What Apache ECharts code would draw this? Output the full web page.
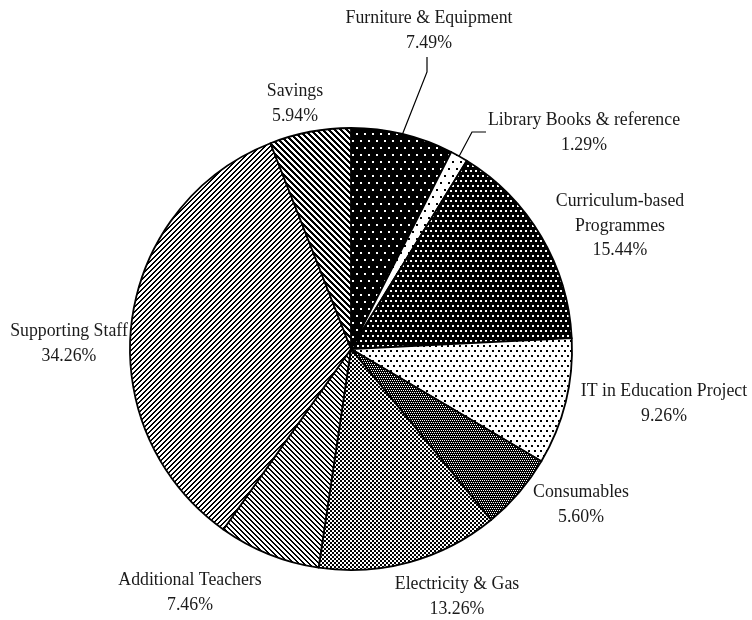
<!DOCTYPE html>
<html>
<head>
<meta charset="utf-8">
<script src="https://cdn.jsdelivr.net/npm/echarts@6/dist/echarts.min.js"></script>
<style>
  html, body { margin: 0; padding: 0; background: #fff; }
  #chart { width: 752px; height: 620px; }
</style>
</head>
<body>
<div id="chart"></div>
<script>
// Expenditure shares (%), clockwise from 12 o'clock
const categories = [
  'Furniture & Equipment',
  'Library Books & reference',
  'Curriculum-based\nProgrammes',
  'IT in Education Project',
  'Consumables',
  'Electricity & Gas',
  'Additional Teachers',
  'Supporting Staff',
  'Savings'
];
const shares = [7.49, 1.29, 15.44, 9.26, 5.60, 13.26, 7.46, 34.26, 5.94];

// Label anchor centres (px) and leader line bends
const labelCentres = [
  [429, 31], [584, 133], [620, 226], [664, 404], [581, 505],
  [457, 597], [190, 593], [69, 344], [295, 104]
];
const leaderLines = {
  0: [[427, 72], [427, 57]],
  1: [[472, 132], [486, 132]]
};

// Monochrome fill tiles drawn pixel by pixel
function tile(w, h, isBlack) {
  const c = document.createElement('canvas');
  c.width = w; c.height = h;
  const ctx = c.getContext('2d');
  const img = ctx.createImageData(w, h);
  for (let y = 0; y < h; y++) {
    for (let x = 0; x < w; x++) {
      const k = (y * w + x) * 4;
      const v = isBlack(x, y) ? 0 : 255;
      img.data[k] = v; img.data[k + 1] = v; img.data[k + 2] = v; img.data[k + 3] = 255;
    }
  }
  ctx.putImageData(img, 0, 0);
  return { image: c, repeat: 'repeat' };
}
function dot(x, y, cx, cy, s) { return x >= cx && x < cx + s && y >= cy && y < cy + s; }

const fills = [
  // sparse white dots on black
  tile(16, 14, (x, y) => !(dot(x, y, 0, 0, 2) || dot(x, y, 8, 0, 2) || dot(x, y, 4, 7, 2) || dot(x, y, 12, 7, 2))),
  // sparse black dots on white
  tile(16, 14, (x, y) => dot(x, y, 0, 0, 2) || dot(x, y, 8, 0, 2) || dot(x, y, 4, 7, 2) || dot(x, y, 12, 7, 2)),
  // dense white dots on black
  tile(10, 10, (x, y) => !(dot(x, y, 0, 0, 2) || dot(x, y, 5, 0, 2) || dot(x, y, 2, 5, 2) || dot(x, y, 7, 5, 2))),
  // medium black dots on white
  tile(12, 10, (x, y) => dot(x, y, 0, 0, 2) || dot(x, y, 6, 0, 2) || dot(x, y, 3, 5, 2) || dot(x, y, 9, 5, 2)),
  // dark fine grid
  tile(4, 4, (x, y) => !((x === 0 && y === 0) || (x === 2 && y === 0) || (x === 1 && y === 2) || (x === 3 && y === 2))),
  // 50% checker
  tile(4, 4, (x, y) => ((x >> 1) + (y >> 1)) % 2 === 0),
  // thin back-slash hatch
  tile(5, 5, (x, y) => ((x - y) % 5 + 5) % 5 < 2),
  // thin forward-slash hatch
  tile(5, 5, (x, y) => (x + y) % 5 < 2),
  // heavy back-slash hatch
  tile(6, 6, (x, y) => ((x - y) % 6 + 6) % 6 < 3)
];

const data = categories.map((name, i) => ({
  name: name,
  value: shares[i],
  itemStyle: { color: fills[i] },
  labelLine: { show: i in leaderLines }
}));

const chart = echarts.init(document.getElementById('chart'), null, { renderer: 'canvas' });
chart.setOption({
  animation: false,
  backgroundColor: '#ffffff',
  series: [{
    type: 'pie',
    center: [351, 349],
    radius: [0, 221],
    startAngle: 90,
    clockwise: true,
    avoidLabelOverlap: false,
    data: data,
    itemStyle: { borderColor: '#000', borderWidth: 1.8 },
    emphasis: { disabled: true },
    label: {
      show: true,
      position: 'outside',
      formatter: p => p.name + '\n' + p.value.toFixed(2) + '%',
      fontFamily: '"Liberation Serif", "DejaVu Serif", serif',
      fontSize: 17.8,
      lineHeight: 24.5,
      color: '#1a1a1a',
      align: 'center'
    },
    labelLine: { lineStyle: { color: '#000', width: 1.2 } },
    labelLayout: function (params) {
      const i = params.dataIndex;
      const res = {
        x: labelCentres[i][0],
        y: labelCentres[i][1],
        align: 'center',
        verticalAlign: 'middle'
      };
      if (leaderLines[i] && params.labelLinePoints) {
        res.labelLinePoints = [params.labelLinePoints[0]].concat(leaderLines[i]);
      }
      return res;
    }
  }]
});
</script>
</body>
</html>
